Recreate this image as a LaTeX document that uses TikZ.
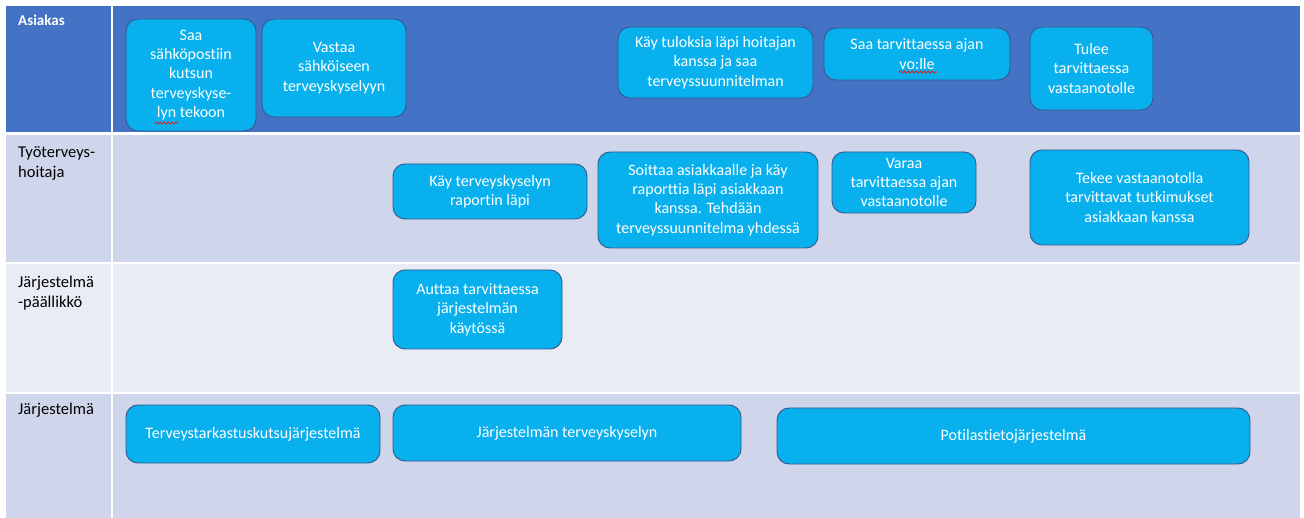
\documentclass[tikz,border=0pt]{standalone}
\usepackage{fontspec}
\setmainfont{Carlito}[Ligatures=CommonOff]
\usetikzlibrary{decorations.pathmorphing}
\definecolor{laneA}{HTML}{4472C4}
\definecolor{laneB}{HTML}{CFD5EA}
\definecolor{laneC}{HTML}{E9EBF5}
\definecolor{actfill}{HTML}{08B0EE}
\definecolor{actline}{HTML}{34578F}
\definecolor{spell}{HTML}{E0201C}
\tikzset{
  act/.style={draw=actline, line width=0.9pt, fill=actfill, rounded corners=12pt,
    text=white, align=center, inner sep=0pt,
    font=\fontsize{16}{19.3}\selectfont},
  lanelabel/.style={anchor=north west, inner sep=0pt, align=left,
    font=\fontsize{16.5}{20}\selectfont},
  grid/.style={white, line width=2.6pt},
  squiggle/.style={spell, line width=0.8pt,
    decorate, decoration={snake, amplitude=1.1pt, segment length=4pt}}
}
\newcommand{\actbox}[6]{% name, x0, y0, x1, y1, text
  \node[act, minimum width={#4-#2}, minimum height={#5-#3}]
    (#1) at ({(#2+#4)/2},{(#3+#5)/2}) {#6};}
\begin{document}
\begin{tikzpicture}[x=1pt, y=-1pt]
\useasboundingbox (0,0) rectangle (1304,518);
\fill[white] (0,0) rectangle (1304,518);
% lanes
\fill[laneA] (6,6) rectangle (1300,133);
\fill[laneB] (6,133) rectangle (1300,263);
\fill[laneC] (6,263) rectangle (1300,393);
\fill[laneB] (6,393) rectangle (1300,518);
% cell rules
\draw[grid] (6,133.5) -- (1300,133.5);
\draw[grid] (6,263) -- (1300,263);
\draw[grid] (6,393) -- (1300,393);
\draw[grid] (112,6) -- (112,518);
% lane titles
\node[lanelabel, text=white, font=\fontsize{15}{20}\selectfont\bfseries] (tA) at (18,15) {Asiakas};
\node[lanelabel] (tB) at (18,146) {Työterveys-\\hoitaja};
\node[lanelabel] (tC) at (18,276) {Järjestelmä\\-päällikkö};
\node[lanelabel] (tD) at (18,403) {Järjestelmä};
% Asiakas
\actbox{a1}{126}{19}{256}{131}{Saa\\sähköpostiin\\kutsun\\terveyskyse-\\lyn tekoon}
\actbox{a2}{262}{19}{406}{117}{Vastaa\\sähköiseen\\terveyskyselyyn}
\actbox{a3}{618}{27}{813}{98}{Käy tuloksia läpi hoitajan\\kanssa ja saa\\terveyssuunnitelman}
\actbox{a4}{824}{28}{1010}{80}{Saa tarvittaessa ajan\\vo:lle}
\actbox{a5}{1030}{27}{1153}{110}{Tulee\\tarvittaessa\\vastaanotolle}
% Työterveyshoitaja
\actbox{h1}{393}{164}{587}{219}{Käy terveyskyselyn\\raportin läpi}
\actbox{h2}{598}{152}{818}{248}{Soittaa asiakkaalle ja käy\\raporttia läpi asiakkaan\\kanssa. Tehdään\\terveyssuunnitelma yhdessä}
\actbox{h3}{832}{152}{976}{213}{Varaa\\tarvittaessa ajan\\vastaanotolle}
\actbox{h4}{1030}{150}{1249}{245}{Tekee vastaanotolla\\tarvittavat tutkimukset\\asiakkaan kanssa}
% Järjestelmäpäällikkö
\actbox{p1}{393}{270}{562}{349}{Auttaa tarvittaessa\\järjestelmän\\käytössä}
% Järjestelmä
\actbox{s1}{126}{405}{380}{463}{Terveystarkastuskutsujärjestelmä}
\actbox{s2}{393}{405}{741}{461}{Järjestelmän terveyskyselyn}
\actbox{s3}{777}{408}{1250}{464}{Potilastietojärjestelmä}
% spelling marks
\draw[squiggle] (155,123) -- (178,123);
\draw[squiggle] (899,72) -- (937,72);
\end{tikzpicture}
\end{document}
